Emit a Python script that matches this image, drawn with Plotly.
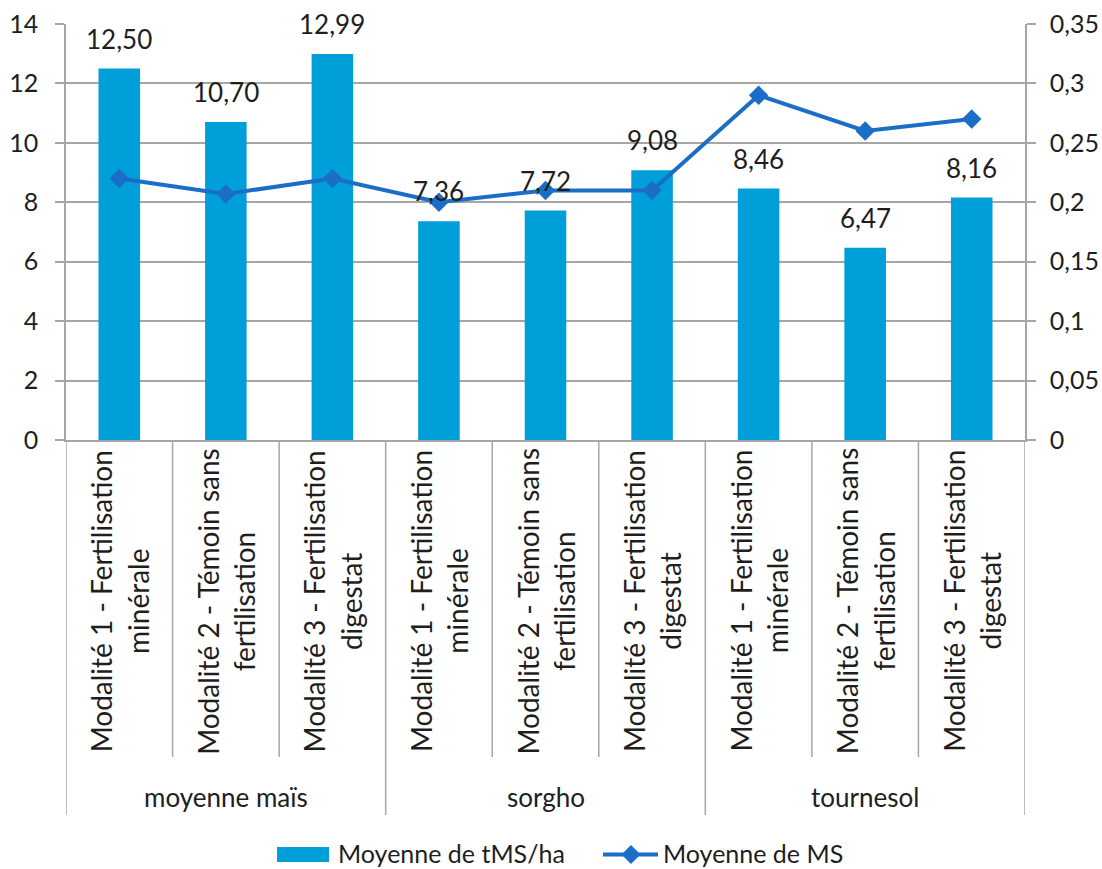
import plotly.graph_objects as go

# Crop groups and fertilisation treatments
groups = ["moyenne maïs", "sorgho", "tournesol"]
treatments = [
    "Modalité 1 - Fertilisation<br>minérale",
    "Modalité 2 - Témoin sans<br>fertilisation",
    "Modalité 3 - Fertilisation<br>digestat",
]

# Mean dry-matter yield (t MS/ha), one value per group x treatment
tms_ha = [12.50, 10.70, 12.99, 7.36, 7.72, 9.08, 8.46, 6.47, 8.16]
# Mean dry-matter content (MS)
ms = [0.22, 0.207, 0.22, 0.20, 0.21, 0.21, 0.29, 0.26, 0.27]

series_names = ["Moyenne de tMS/ha", "Moyenne de MS"]
left_ticks = [0, 2, 4, 6, 8, 10, 12, 14]

BAR_COLOR = "#009fda"
LINE_COLOR = "#1b6ec6"
GRID = "#a6a6a6"
TEXT = "#1e1e1e"
FONT = "Lato"
FS = 26
TICK_FS = 25
LEGEND_FS = 25

W, H = 1102, 869
PLOT_TOP, PLOT_BOTTOM = 24, 440
PLOT_LEFT, PLOT_RIGHT = 66, 1025


def py_to_paper(py):
    return (PLOT_BOTTOM - py) / (PLOT_BOTTOM - PLOT_TOP)


def px_to_paper(px):
    return (px - PLOT_LEFT) / (PLOT_RIGHT - PLOT_LEFT)


n_cat = len(groups) * len(treatments)
xs = list(range(n_cat))

fig = go.Figure()
fig.add_trace(go.Bar(
    x=xs, y=tms_ha, name=series_names[0],
    marker=dict(color=BAR_COLOR, line=dict(width=0)),
))
fig.add_trace(go.Scatter(
    x=xs, y=ms, name=series_names[1], yaxis="y2",
    mode="lines+markers",
    line=dict(color=LINE_COLOR, width=4),
    marker=dict(symbol="diamond", size=15, color=LINE_COLOR),
))

annotations = []
shapes = []

# value labels above the bars
for x, v in zip(xs, tms_ha):
    annotations.append(dict(
        x=x, y=v, xref="x", yref="y", text=f"{v:.2f}".replace(".", ","),
        showarrow=False, yanchor="middle", yshift=30,
        font=dict(family=FONT, size=FS, color=TEXT),
    ))

# rotated treatment labels and group labels under the axis
for gi, g in enumerate(groups):
    for ti, t in enumerate(treatments):
        x = gi * len(treatments) + ti
        annotations.append(dict(
            x=x, y=py_to_paper(601), xref="x", yref="paper", text=t,
            showarrow=False, textangle=-90, align="center",
            xanchor="center", yanchor="middle",
            font=dict(family=FONT, size=28, color=TEXT),
        ))
    annotations.append(dict(
        x=gi * len(treatments) + (len(treatments) - 1) / 2, y=py_to_paper(797),
        xref="x", yref="paper", text=g, showarrow=False,
        xanchor="center", yanchor="middle",
        font=dict(family=FONT, size=FS, color=TEXT),
    ))

# category dividers below the axis (longer ones between crop groups)
for k in range(n_cat + 1):
    is_group_edge = k % len(treatments) == 0
    shapes.append(dict(
        type="line", xref="x", yref="paper",
        x0=k - 0.5, x1=k - 0.5, y0=0,
        y1=py_to_paper(815 if is_group_edge else 757),
        line=dict(color=GRID, width=1.5),
    ))

# legend: bar swatch, line-with-diamond key, and labels
legend_cy = 854.5
ly = py_to_paper(legend_cy)
shapes.append(dict(
    type="rect", xref="paper", yref="paper",
    x0=px_to_paper(277), x1=px_to_paper(329),
    y0=py_to_paper(legend_cy + 7.5), y1=py_to_paper(legend_cy - 7.5),
    fillcolor=BAR_COLOR, line=dict(width=0),
))
shapes.append(dict(
    type="line", xref="paper", yref="paper",
    x0=px_to_paper(603), x1=px_to_paper(658), y0=ly, y1=ly,
    line=dict(color=LINE_COLOR, width=4),
))
cx, r = 631, 9.5
shapes.append(dict(
    type="path", xref="paper", yref="paper",
    path=(f"M{px_to_paper(cx - r)},{py_to_paper(legend_cy)} "
          f"L{px_to_paper(cx)},{py_to_paper(legend_cy - r)} "
          f"L{px_to_paper(cx + r)},{py_to_paper(legend_cy)} "
          f"L{px_to_paper(cx)},{py_to_paper(legend_cy + r)} Z"),
    fillcolor=LINE_COLOR, line=dict(width=0),
))
for name, px in zip(series_names, [336, 661]):
    annotations.append(dict(
        x=px_to_paper(px), y=py_to_paper(852.5), xref="paper", yref="paper", text=name,
        showarrow=False, xanchor="left", yanchor="middle",
        font=dict(family=FONT, size=LEGEND_FS, color=TEXT),
    ))

fig.update_layout(
    width=W, height=H,
    margin=dict(l=PLOT_LEFT, r=W - PLOT_RIGHT, t=PLOT_TOP, b=H - PLOT_BOTTOM,
                pad=0, autoexpand=False),
    paper_bgcolor="white", plot_bgcolor="white",
    separators=", ",
    font=dict(family=FONT, size=FS, color=TEXT),
    bargap=0.61,
    showlegend=False,
    xaxis=dict(
        range=[-0.5, n_cat - 0.5], showticklabels=False, showgrid=False,
        zeroline=False, showline=True, linecolor=GRID, linewidth=1.5, ticks="",
        automargin=False,
    ),
    yaxis=dict(
        range=[0, 14], tickvals=left_ticks, showgrid=True, gridcolor=GRID, gridwidth=1.5,
        zeroline=False, showline=True, linecolor=GRID, linewidth=1.5,
        ticks="outside", ticklen=9, tickcolor=GRID, tickwidth=1.5,
        ticklabelstandoff=12, automargin=False,
        tickfont=dict(family=FONT, size=TICK_FS, color=TEXT),
    ),
    yaxis2=dict(
        range=[0, 0.35], dtick=0.05, tick0=0, overlaying="y", side="right",
        showgrid=False, zeroline=False, showline=True, linecolor=GRID, linewidth=1.5,
        ticks="outside", ticklen=9, tickcolor=GRID, tickwidth=1.5,
        ticklabelstandoff=9, automargin=False,
        tickfont=dict(family=FONT, size=TICK_FS, color=TEXT),
    ),
    annotations=annotations,
    shapes=shapes,
)

fig.write_html("out.html")
